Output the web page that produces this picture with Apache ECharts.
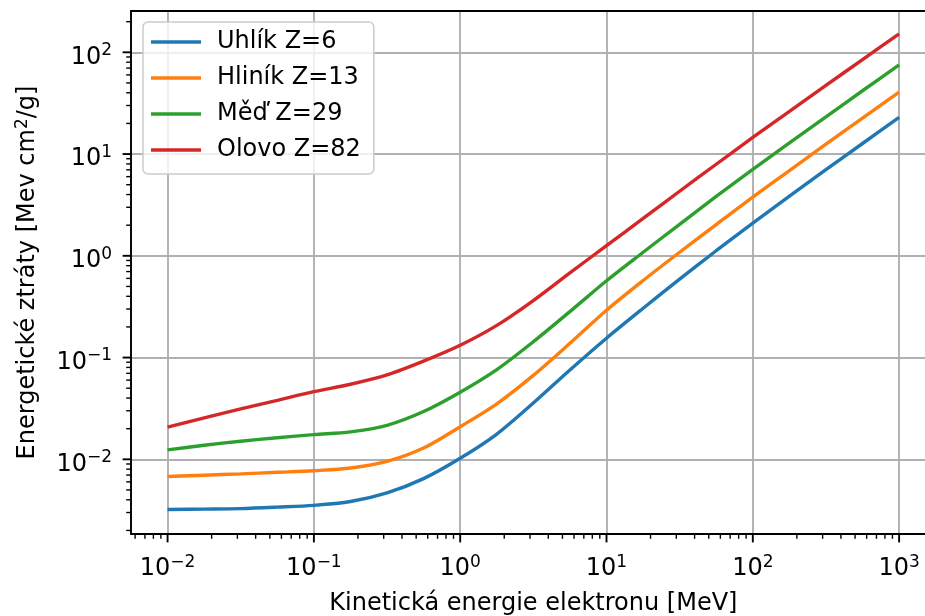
<!DOCTYPE html>
<html>
<head>
<meta charset="utf-8">
<script src="https://cdn.jsdelivr.net/npm/echarts@6/dist/echarts.min.js"></script>
<style>
  html, body { margin: 0; padding: 0; background: #ffffff; }
  #chart { width: 925px; height: 616px; }
</style>
</head>
<body>
<div id="chart"></div>
<script>
// Kinetic energy of the electron [MeV], quarter-decade steps
const energy = [0.01, 0.0178, 0.0316, 0.0562, 0.1, 0.178, 0.316, 0.562, 1, 1.78, 3.16, 5.62,
                10, 17.8, 31.6, 56.2, 100, 178, 316, 562, 1000];

// Energy losses [MeV cm^2/g] for each absorber
const carbon    = [0.00321, 0.00324, 0.00328, 0.00339, 0.00353, 0.00385, 0.00468, 0.00646, 0.01023, 0.0177, 0.0357,
                   0.0755, 0.155, 0.305, 0.589, 1.122, 2.10, 3.86, 7.03, 12.7, 22.9];
const aluminium = [0.00678, 0.00698, 0.00719, 0.00745, 0.00773, 0.00822, 0.00955, 0.0129, 0.0209, 0.0351, 0.0668,
                   0.138, 0.292, 0.572, 1.084, 2.03, 3.78, 6.89, 12.5, 22.5, 40.6];
const copper    = [0.01239, 0.01374, 0.01507, 0.01629, 0.0175, 0.0186, 0.0216, 0.0295, 0.0457, 0.0762, 0.143,
                   0.283, 0.569, 1.084, 2.04, 3.83, 7.08, 12.9, 23.2, 41.9, 75.3];
const lead      = [0.0207, 0.0255, 0.0313, 0.0380, 0.0462, 0.0547, 0.0676, 0.0923, 0.132, 0.207, 0.363,
                   0.679, 1.26, 2.33, 4.31, 7.94, 14.6, 26.3, 47.3, 84.7, 152];

const seriesNames = ['Uhlík Z=6', 'Hliník Z=13', 'Měď Z=29', 'Olovo Z=82'];
const seriesValues = [carbon, aluminium, copper, lead];
const colors = ['#1f77b4', '#ff7f0e', '#2ca02c', '#d62728'];

// Decade exponents carrying a labelled major tick
const xMajorExp = [-2, -1, 0, 1, 2, 3];
const yMajorExp = [-2, -1, 0, 1, 2];

const xTitle = 'Kinetická energie elektronu [MeV]';
const yTitle = '{t|Energetické ztráty [Mev cm}{s|2}{t|/g]}';

const FONT = 'DejaVu Sans';
const X_MIN = Math.pow(10, -2.25), X_MAX = Math.pow(10, 3.25);
const Y_MIN = Math.pow(10, -2.734), Y_MAX = Math.pow(10, 2.406);

function powLabel(v) {
  const e = Math.log10(v);
  const r = Math.round(e);
  if (Math.abs(e - r) > 1e-6) return '';
  return '{b|10}{s|' + (r < 0 ? '\u2212' + (-r) : String(r)) + '}';
}

// Minor ticks at 2..9 x 10^n inside the axis range
function minorValues(lo, hi) {
  const out = [];
  for (let n = Math.floor(Math.log10(lo)); n <= Math.ceil(Math.log10(hi)); n++) {
    for (let k = 2; k <= 9; k++) {
      const v = k * Math.pow(10, n);
      if (v > lo && v < hi) out.push(v);
    }
  }
  return out;
}

const xTicks = xMajorExp.map(e => [Math.pow(10, e), 1]).concat(minorValues(X_MIN, X_MAX).map(v => [v, 0]));
const yTicks = yMajorExp.map(e => [Math.pow(10, e), 1]).concat(minorValues(Y_MIN, Y_MAX).map(v => [v, 0]));

const labelRich = {
  b: { fontFamily: FONT, fontSize: 24, color: '#000', lineHeight: 30 },
  s: { fontFamily: FONT, fontSize: 17, color: '#000', lineHeight: 17, verticalAlign: 'top' }
};

const lineSeries = seriesNames.map((name, i) => ({
  name: name,
  type: 'line',
  data: energy.map((e, j) => [e, seriesValues[i][j]]),
  symbol: 'none',
  smooth: 0.3,
  lineStyle: { color: colors[i], width: 3.4 },
  itemStyle: { color: colors[i] },
  z: 3
}));

const xTickSeries = {
  type: 'custom',
  silent: true,
  clip: false,
  z: 6,
  data: xTicks,
  renderItem(params, api) {
    const cs = params.coordSys;
    const p = api.coord([api.value(0), 1]);
    const major = api.value(1) === 1;
    const y0 = cs.y + cs.height;
    return {
      type: 'line',
      shape: { x1: p[0], y1: y0, x2: p[0], y2: y0 + (major ? 8.4 : 4.8) },
      style: { stroke: '#000', lineWidth: major ? 1.9 : 1.4 }
    };
  }
};

const yTickSeries = {
  type: 'custom',
  silent: true,
  clip: false,
  z: 6,
  data: yTicks.map(t => [1, t[0], t[1]]),
  renderItem(params, api) {
    const cs = params.coordSys;
    const p = api.coord([1, api.value(1)]);
    const major = api.value(2) === 1;
    const x0 = cs.x;
    return {
      type: 'line',
      shape: { x1: x0, y1: p[1], x2: x0 - (major ? 8.4 : 4.8), y2: p[1] },
      style: { stroke: '#000', lineWidth: major ? 1.9 : 1.4 }
    };
  }
};

const chart = echarts.init(document.getElementById('chart'), null, { renderer: 'canvas' });
chart.setOption({
  animation: false,
  backgroundColor: '#ffffff',
  color: colors,
  grid: { left: 131, top: 11, right: -10.7, bottom: 82, containLabel: false, outerBoundsMode: 'none' },
  legend: {
    data: seriesNames,
    orient: 'vertical',
    left: 143,
    top: 22,
    icon: 'rect',
    itemWidth: 50,
    itemHeight: 3.5,
    itemGap: 6,
    padding: [5, 13, 9, 8],
    backgroundColor: 'rgba(255,255,255,0.8)',
    borderColor: '#cccccc',
    borderWidth: 1.5,
    borderRadius: 5,
    textStyle: { fontFamily: FONT, fontSize: 24, color: '#000', lineHeight: 28, padding: [2, 0, 0, 11] }
  },
  xAxis: [{
    type: 'log',
    logBase: 10,
    min: X_MIN,
    max: X_MAX,
    position: 'bottom',
    name: xTitle,
    nameLocation: 'middle',
    nameGap: 58,
    nameTextStyle: { fontFamily: FONT, fontSize: 24, color: '#000' },
    axisLine: { show: true, onZero: false, lineStyle: { color: '#000', width: 1.9 } },
    axisTick: { show: false },
    axisLabel: { formatter: powLabel, margin: 20, rich: labelRich },
    splitLine: { show: true, lineStyle: { color: '#b0b0b0', width: 1.9 } },
    minorSplitLine: { show: false }
  }, {
    type: 'log',
    logBase: 10,
    min: X_MIN,
    max: X_MAX,
    position: 'top',
    axisLine: { show: true, onZero: false, lineStyle: { color: '#000', width: 1.9 } },
    axisTick: { show: false },
    axisLabel: { show: false },
    splitLine: { show: false }
  }],
  yAxis: [{
    type: 'log',
    logBase: 10,
    min: Y_MIN,
    max: Y_MAX,
    position: 'left',
    name: yTitle,
    nameLocation: 'middle',
    nameRotate: 90,
    nameGap: 89,
    nameTextStyle: {
      fontFamily: FONT, fontSize: 24, color: '#000',
      rich: {
        t: { fontFamily: FONT, fontSize: 24, color: '#000', lineHeight: 28 },
        s: { fontFamily: FONT, fontSize: 17, color: '#000', lineHeight: 17, verticalAlign: 'top' }
      }
    },
    axisLine: { show: true, onZero: false, lineStyle: { color: '#000', width: 1.9 } },
    axisTick: { show: false },
    axisLabel: { formatter: powLabel, margin: 19, rich: labelRich, padding: [10, 0, 0, 0] },
    splitLine: { show: true, lineStyle: { color: '#b0b0b0', width: 1.9 } }
  }],
  series: lineSeries.concat([xTickSeries, yTickSeries])
});
</script>
</body>
</html>
